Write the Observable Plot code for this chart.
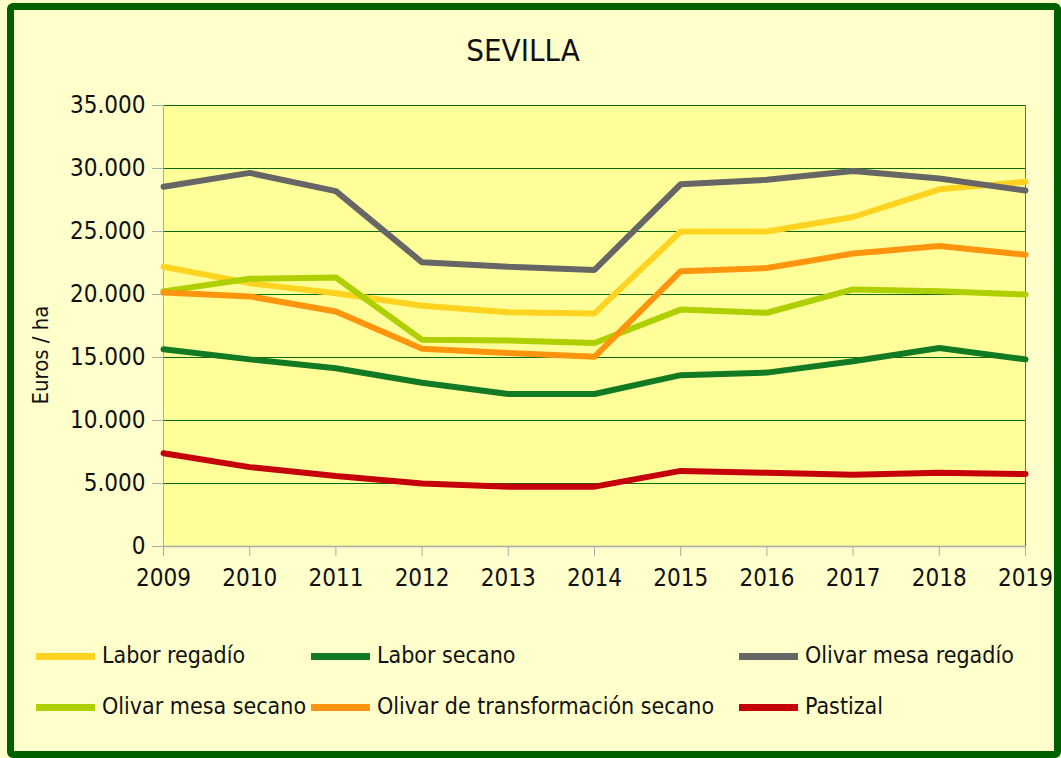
<!DOCTYPE html>
<html><head><meta charset="utf-8">
<script src="https://cdn.jsdelivr.net/npm/d3@7"></script>
<script src="https://cdn.jsdelivr.net/npm/@observablehq/plot@0.6"></script>
<style>
body{margin:0;background:#FFFFCC;}
#wrap{position:relative;width:1061px;height:758px;background:#FFFFCC;overflow:hidden;font-family:"DejaVu Sans Condensed","DejaVu Sans",sans-serif;color:#111;}
#border{position:absolute;left:7px;top:3px;width:1054px;height:755px;box-sizing:border-box;border:7px solid #006000;border-radius:6px;pointer-events:none;}
#title{position:absolute;left:0;width:1046px;text-align:center;top:32px;font-size:31px;line-height:36px;}
#ylab{position:absolute;left:-59px;top:342px;width:200px;text-align:center;font-size:22px;line-height:26px;transform:rotate(-90deg);}
#chart{position:absolute;left:0;top:0;}
.leg{position:absolute;font-size:23px;line-height:26px;white-space:nowrap;}
.sw{position:absolute;height:7px;}
</style></head>
<body><div id="wrap">
<div id="chart"></div>
<div id="title">SEVILLA</div>
<div id="ylab">Euros / ha</div>
<div id="legend"></div>
<div id="border"></div>
</div>
<script>
const years = [2009,2010,2011,2012,2013,2014,2015,2016,2017,2018,2019];
const seriesNames = ["Labor regadío","Labor secano","Olivar mesa regadío","Olivar mesa secano","Olivar de transformación secano","Pastizal"];
const seriesColors = ["#FFD320","#127A22","#666666","#AECF00","#FF950E","#C5000B"];
const laborRegadio = [22200,20900,20100,19100,18600,18500,25000,25000,26150,28350,28950];
const laborSecano = [15650,14850,14150,13000,12100,12100,13600,13800,14700,15750,14850];
const olivarMesaRegadio = [28550,29650,28200,22550,22200,21950,28750,29100,29800,29200,28250];
const olivarMesaSecano = [20250,21250,21350,16400,16350,16150,18800,18550,20400,20250,20000];
const olivarTransformacionSecano = [20150,19850,18650,15700,15350,15050,21850,22100,23250,23850,23150];
const pastizal = [7400,6300,5600,5000,4750,4750,6000,5850,5700,5850,5750];
const yTicks = [0,5000,10000,15000,20000,25000,30000,35000];

const seriesValues = [laborRegadio, laborSecano, olivarMesaRegadio, olivarMesaSecano, olivarTransformacionSecano, pastizal];
const data = [];
seriesNames.forEach((s,i)=>years.forEach((y,j)=>data.push({series:s, year:y, value:seriesValues[i][j]})));

const fmt = d => d === 0 ? "0" : d3.format(",")(d).replace(/,/g,".");
const font = '"DejaVu Sans Condensed","DejaVu Sans",sans-serif';

const chart = Plot.plot({
  width:1061, height:600,
  marginLeft:163, marginRight:36, marginTop:105, marginBottom:54,
  style:{background:"transparent", fontFamily:font, color:"#111", overflow:"visible"},
  x:{domain:[2009,2019]},
  y:{domain:[0,35000]},
  color:{domain:seriesNames, range:seriesColors},
  marks:[
    Plot.frame({fill:"#FFFF99", stroke:"none"}),
    Plot.ruleY(yTicks.filter(d=>d>0), {stroke:"#0B6B0B", strokeWidth:1}),
    Plot.ruleX([2019], {stroke:"#3A8A2A", strokeWidth:1}),
    Plot.ruleX([2009], {stroke:"#AAAAAA", strokeWidth:1}),
    Plot.ruleY([0], {stroke:"#AAAAAA", strokeWidth:1.5}),
    Plot.axisY({ticks:yTicks, tickSize:11, tickPadding:7, tickFormat:fmt, stroke:"#AAAAAA", fill:"#111", fontSize:24, label:null}),
    Plot.axisX({ticks:years, tickSize:10, tickPadding:12, tickFormat:d=>String(d), stroke:"#AAAAAA", fill:"#111", fontSize:24, label:null}),
    Plot.line(data, {x:"year", y:"value", z:"series", stroke:"series", strokeWidth:6, strokeLinejoin:"miter"})
  ]
});
document.getElementById("chart").appendChild(chart);

const legendPos = [[36,656],[311,656],[739,656],[36,707],[311,707],[739,707]];
const leg = document.getElementById("legend");
seriesNames.forEach((s,i)=>{
  const [x,y] = legendPos[i];
  const sw = document.createElement("div");
  sw.className = "sw";
  sw.style.left = x+"px"; sw.style.top = (y-3.5)+"px"; sw.style.width = "59px"; sw.style.background = seriesColors[i];
  leg.appendChild(sw);
  const t = document.createElement("div");
  t.className = "leg";
  t.style.left = (x+66)+"px"; t.style.top = (y-14)+"px";
  t.textContent = s;
  leg.appendChild(t);
});
</script>
</body></html>
